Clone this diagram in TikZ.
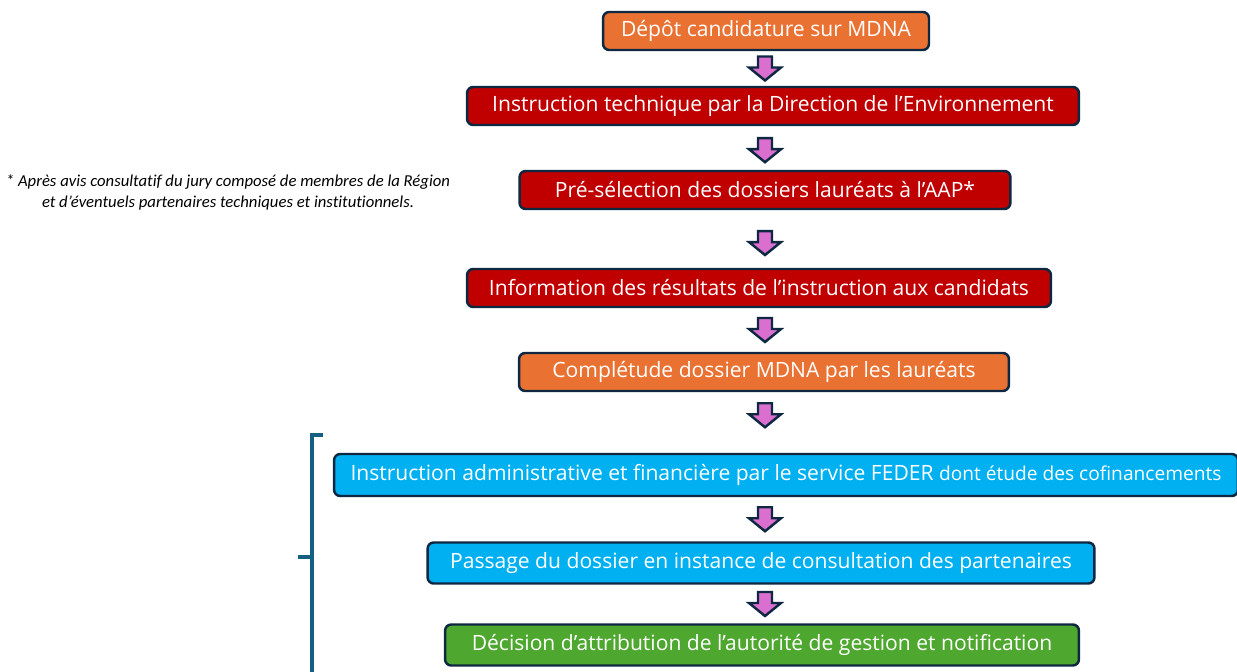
\documentclass[tikz,border=0pt]{standalone}
\usepackage{fontspec}
\setmainfont{Open Sans}
\newfontfamily\notefont[Ligatures=NoCommon]{Carlito}
\usetikzlibrary{calc, positioning}
\definecolor{regOrange}{HTML}{E97132}
\definecolor{regRed}{HTML}{C00000}
\definecolor{regBlue}{HTML}{00B0F0}
\definecolor{regGreen}{HTML}{4EA72E}
\definecolor{regNavy}{HTML}{0E2841}
\definecolor{regPink}{HTML}{DA6FD0}
\definecolor{regTeal}{HTML}{156082}
\tikzset{
  stepbox/.style   = {draw=regNavy, line width=1.4pt, rounded corners=3.5pt, text=white,
                      inner sep=0pt, minimum height=0.76cm, font=\fontsize{12}{14}\selectfont},
  arrowshape/.style = {fill=regPink, draw=regNavy, line width=1.4pt, line join=miter},
  flowarrow/.pic   = {\draw[arrowshape] (-7,-12) -- (7,-12) -- (7,-1) -- (16,-1) -- (0,12)
                      -- (-16,-1) -- (-7,-1) -- cycle;},
  bracket/.style   = {regTeal, line width=2.3pt},
  note/.style      = {font=\notefont\itshape\fontsize{9.5}{12}\selectfont, align=center},
}
\begin{document}
\begin{tikzpicture}[x=0.02cm, y=-0.02cm]
  \useasboundingbox (0,0) rectangle (1237,672);
  \clip (0,0) rectangle (1237,672);
  % steps of the procedure
  \node[stepbox, fill=regOrange, minimum width=6.52cm] (depot) at (766,31) {Dépôt candidature sur MDNA};
  \node[stepbox, fill=regRed, minimum width=12.24cm] (tech) at (773,106) {Instruction technique par la Direction de l’Environnement};
  \node[stepbox, fill=regRed, minimum width=9.82cm] (presel) at (765,190) {Pré-sélection des dossiers lauréats à l’AAP*};
  \node[stepbox, fill=regRed, minimum width=11.68cm] (info) at (759,288) {Information des résultats de l’instruction aux candidats};
  \node[stepbox, fill=regOrange, minimum width=9.8cm] (complet) at (764,372) {Complétude dossier MDNA par les lauréats};
  \node[stepbox, fill=regBlue, minimum width=18.08cm, minimum height=0.84cm] (admin) at (786,475)
    {Instruction administrative et financière par le service FEDER {\fontsize{10.9}{12}\selectfont dont étude des cofinancements}};
  \node[stepbox, fill=regBlue, minimum width=13.34cm, minimum height=0.82cm] (passage) at (761,563) {Passage du dossier en instance de consultation des partenaires};
  \node[stepbox, fill=regGreen, minimum width=12.68cm, minimum height=0.82cm] (decision) at (762,645) {Décision d’attribution de l’autorité de gestion et notification};
  % block arrows between the steps
  \coordinate (axis) at (765,0);
  \foreach \a/\b/\f in {depot/tech/.5, tech/presel/.55, presel/info/.57, info/complet/.5,
                        complet/admin/.38, admin/passage/.5, passage/decision/.5} {
    \coordinate (mid) at ($(\a.south)!\f!(\b.north)$);
    \path (axis |- mid) pic {flowarrow};
  }
  % footnote
  \node[note] (jury) at (228,192) {* Après avis consultatif du jury composé de membres de la Région\\
    et d’éventuels partenaires techniques et institutionnels.};
  % bracket round the FEDER steps
  \coordinate (brtop) at (323,435);
  \coordinate (brtip) at (298,557);
  \draw[bracket] (brtop) -- (312,435) -- (312,700);
  \draw[bracket] (312,557) -- (brtip);
\end{tikzpicture}
\end{document}
